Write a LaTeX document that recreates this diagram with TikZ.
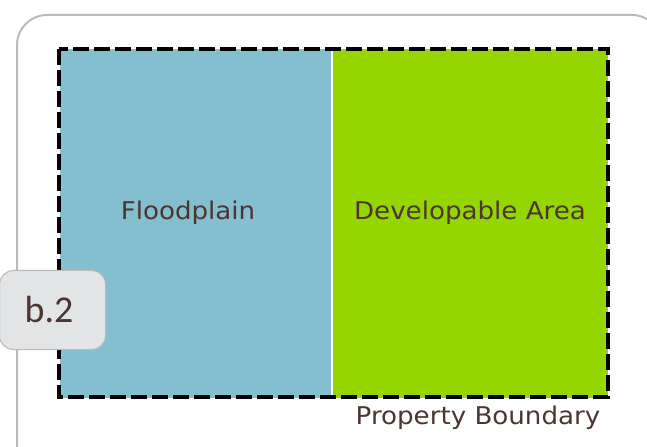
\documentclass[tikz,border=0pt]{standalone}
\usepackage{fontspec}
\setmainfont{DejaVu Sans}
\newfontfamily\zonefont{DejaVu Sans}[FakeStretch=1.07]
\newfontfamily\labelfont{Carlito}
\begin{document}
\begin{tikzpicture}[x=1bp,y=-1bp,
  frame/.style={draw=black!27, line width=2bp, rounded corners=30bp},
  boundary/.style={draw=black, line width=4.5bp, dash pattern=on 16bp off 5bp},
  zonetext/.style={text=textbrown, font=\zonefont\fontsize{24.5}{28}\selectfont, inner sep=0pt},
  tag/.style={draw=black!27, fill=taggray, line width=1bp, rounded corners=14bp,
    minimum width=106bp, minimum height=79bp, inner sep=0pt},
  tagtext/.style={font=\labelfont\fontsize{38}{42}\selectfont, text=textbrown, inner sep=0pt}]
\definecolor{floodblue}{HTML}{84BFCF}
\definecolor{devgreen}{HTML}{95D600}
\definecolor{textbrown}{HTML}{4A3530}
\definecolor{taggray}{HTML}{E3E4E6}
\useasboundingbox (0,0) rectangle (647,447);
% outer card
\draw[frame] (17,15) rectangle (662,475);
% land zones
\fill[floodblue] (60,49) rectangle (331,398);
\fill[devgreen] (333,49) rectangle (608,398);
% property line
\draw[boundary] (59,49) rectangle (608,397);
% zone labels
\node[zonetext] (flood) at (188,213) {Floodplain};
\node[zonetext] (dev) at (470,213) {Developable Area};
\node[zonetext, anchor=base] (prop) at (478,424) {Property Boundary};
% section tag
\node[tag, anchor=north west] (b2) at (-1,270) {};
\node[tagtext, anchor=base] (b2text) at (49,323) {b.2};
\end{tikzpicture}
\end{document}
